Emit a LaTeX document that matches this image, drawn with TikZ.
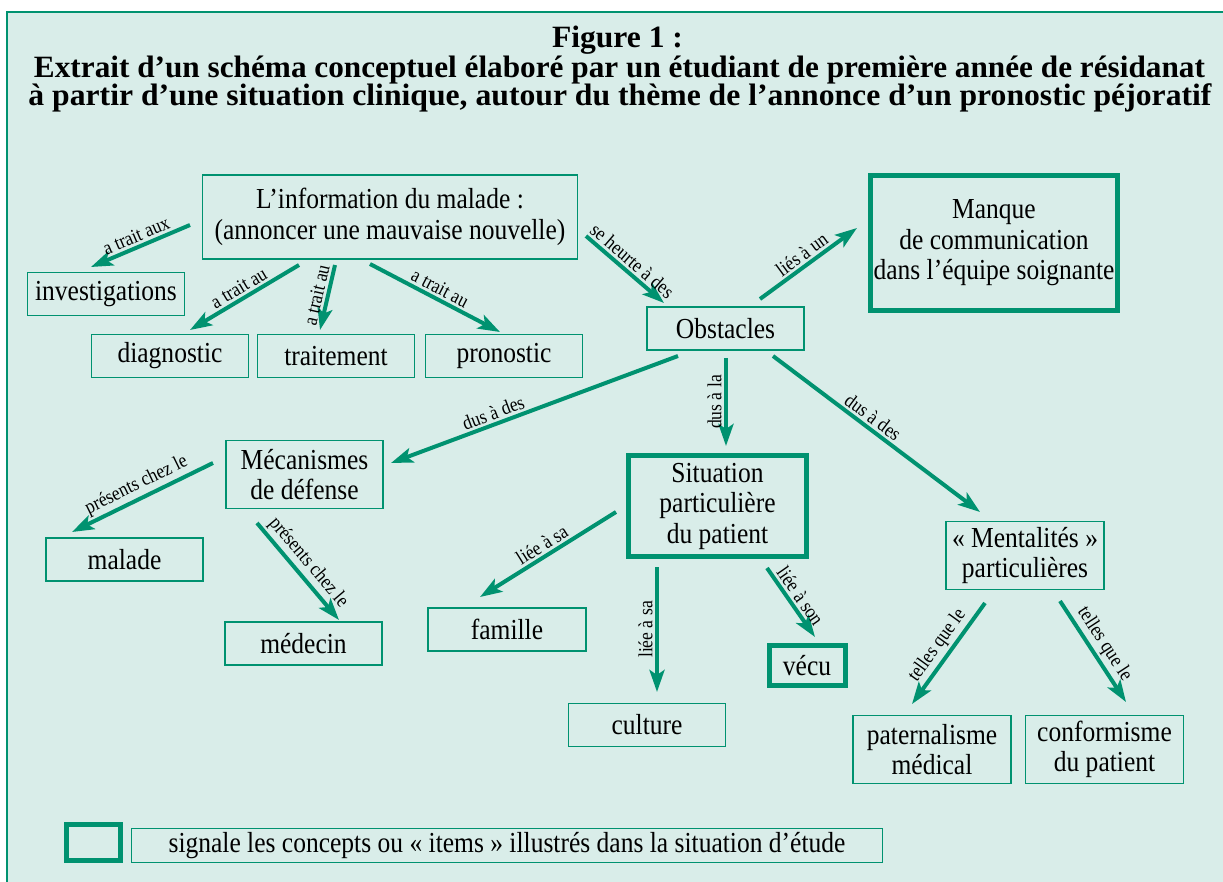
\documentclass[tikz,border=0pt]{standalone}
\usepackage{fontspec}
\usepackage{graphicx}
\usetikzlibrary{arrows.meta,calc}
\setmainfont{Liberation Serif}
\newfontfamily\nodefam{Liberation Serif}[FakeStretch=0.88]
\newcommand\nodefont{\nodefam\fontsize{29}{30.5}\selectfont}
\newcommand\lblfont{\nodefam\fontsize{20}{21}\selectfont}
\newcommand\ttlfont{\fontsize{31}{32}\selectfont\bfseries}
\definecolor{bgc}{RGB}{217,237,233}
\definecolor{grn}{RGB}{0,146,112}
\tikzset{
  box/.style={draw=grn, line width=1.5pt, align=center, inner sep=0pt, font=\nodefont},
  thickbox/.style={box, line width=5pt},
  arr/.style={draw=grn, line width=4pt, -{Stealth[length=22pt,width=15pt,inset=5pt]}},
  lbl/.style={font=\lblfont, inner sep=2.5pt, sloped, above},
  vlbl/.style={font=\lblfont, inner sep=2.5pt, rotate=90, anchor=south},
}
\begin{document}
\begin{tikzpicture}[x=1pt,y=-1pt]
\useasboundingbox (0,0) rectangle (1223,882);
\fill[bgc] (7,12) rectangle (1240,900);
\draw[grn, line width=2.5pt] (7,900) -- (7,12) -- (1240,12);
% title
\node[anchor=base, inner sep=0] (t1) at (617.5,48) {\resizebox{131pt}{\height}{\ttlfont Figure 1 :}};
\node[anchor=base, inner sep=0] (t2) at (619.5,77.5) {\resizebox{1171pt}{\height}{\ttlfont Extrait d’un schéma conceptuel élaboré par un étudiant de première année de résidanat}};
\node[anchor=base, inner sep=0] (t3) at (620,106) {\resizebox{1183pt}{\height}{\ttlfont à partir d’une situation clinique, autour du thème de l’annonce d’un pronostic péjoratif}};
% nodes
\node[box, minimum width=375pt, minimum height=84pt] (info) at (390,217) {L’information du malade :\\(annoncer une mauvaise nouvelle)};
\node[box, minimum width=157pt, minimum height=43pt] (invest) at (106,294) {investigations};
\node[box, minimum width=157pt, minimum height=43pt] (diag) at (170,356) {diagnostic};
\node[box, minimum width=157pt, minimum height=43pt] (trait) at (336,356) {traitement};
\node[box, minimum width=157pt, minimum height=43pt] (prono) at (504,356) {pronostic};
\node[box, minimum width=157pt, minimum height=43pt] (obst) at (725.5,328.5) {Obstacles};
\node[thickbox, minimum width=247pt, minimum height=135pt] (manque) at (994,243) {Manque\\de communication\\dans l’équipe soignante};
\node[box, minimum width=157pt, minimum height=68pt] (meca) at (304.5,474.5) {Mécanismes\\de défense};
\node[box, minimum width=157pt, minimum height=43pt] (malade) at (124.5,559.5) {malade};
\node[box, minimum width=157pt, minimum height=43pt] (medecin) at (303.5,643.5) {médecin};
\node[box, minimum width=158pt, minimum height=43pt] (famille) at (507,629.5) {famille};
\node[thickbox, minimum width=178pt, minimum height=101pt] (situ) at (717.5,506) {Situation\\particulière\\du patient};
\node[box, minimum width=157pt, minimum height=43pt] (culture) at (647,725) {culture};
\node[thickbox, minimum width=76pt, minimum height=40pt] (vecu) at (807,665.5) {vécu};
\node[box, minimum width=158pt, minimum height=68pt] (ment) at (1025,555.5) {« Mentalités »\\particulières};
\node[box, minimum width=158pt, minimum height=68pt] (pater) at (932,749.5) {paternalisme\\médical};
\node[box, minimum width=158pt, minimum height=68pt] (confo) at (1104.5,749.5) {conformisme\\du patient};
\node[thickbox, minimum width=54pt, minimum height=36pt] (legbox) at (93.5,842.5) {};
\node[box, minimum width=751pt, minimum height=34pt] (legtext) at (507,845.5) {signale les concepts ou « items » illustrés dans la situation d’étude};
% connectors
\draw[arr] ($(info)+(-200,8)$) -- node[lbl] {a trait aux} ($(invest)+(-15,-27)$);
\draw[arr] ($(info)+(-91,48)$) -- node[lbl] {a trait au} ($(diag)+(20,-26)$);
\draw[arr] ($(info)+(-55,48)$) -- node[lbl] {a trait au} ($(trait)+(-16,-26)$);
\draw[arr] ($(info)+(-20,47)$) -- node[lbl] {a trait au} ($(prono)+(-4,-24)$);
\draw[arr] ($(info)+(196,19)$) -- node[lbl] {se heurte à des} ($(obst)+(-61.5,-25.5)$);
\draw[arr] ($(obst)+(34.5,-29.5)$) -- node[lbl] {liés à un} ($(manque)+(-137,-15)$);
\draw[arr] ($(obst)+(-47.5,27.5)$) -- node[lbl, pos=0.63] {dus à des} ($(meca)+(86.5,-11.5)$);
\draw[arr] ($(obst)+(0.5,29.5)$) -- node[vlbl, midway] {dus à la} ($(situ)+(8.5,-60)$);
\draw[arr] ($(obst)+(47.5,27.5)$) -- node[lbl, pos=0.45] {dus à des} ($(ment)+(-45,-43.5)$);
\draw[arr] ($(meca)+(-91.5,-11.5)$) -- node[lbl] {présents chez le} ($(malade)+(-52.5,-27.5)$);
\draw[arr] ($(meca)+(-47.5,48.5)$) -- node[lbl] {présents chez le} ($(medecin)+(35.5,-23.5)$);
\draw[arr] ($(situ)+(-101.5,6)$) -- node[lbl] {liée à sa} ($(famille)+(-27,-32.5)$);
\draw[arr] ($(situ)+(-60.5,61)$) -- node[vlbl, midway] {liée à sa} ($(culture)+(10,-33)$);
\draw[arr] ($(situ)+(49.5,62)$) -- node[lbl] {liée à son} ($(vecu)+(8,-28.5)$);
\draw[arr] ($(ment)+(-40,47.5)$) -- node[lbl] {telles que le} ($(pater)+(-20,-45.5)$);
\draw[arr] ($(ment)+(35,45.5)$) -- node[lbl] {telles que le} ($(confo)+(21.5,-47.5)$);
\end{tikzpicture}
\end{document}
